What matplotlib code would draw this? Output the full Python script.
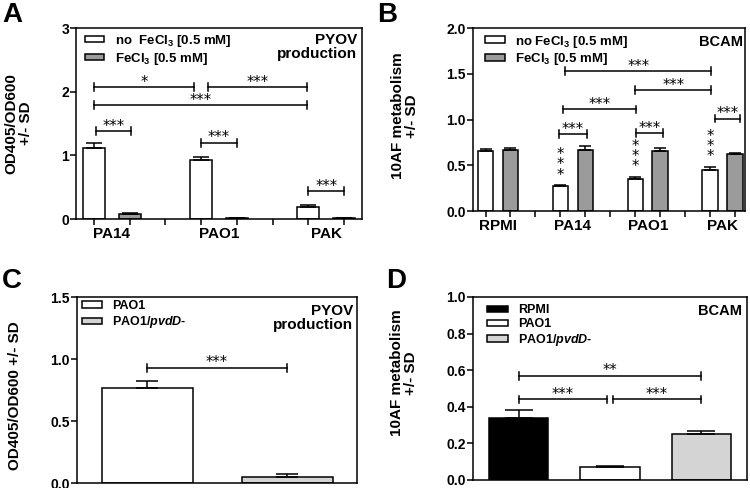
import numpy as np
import matplotlib.pyplot as plt

plt.rcParams['font.family'] = ['Liberation Sans', 'DejaVu Sans']
plt.rcParams['font.weight'] = 'bold'
plt.rcParams['mathtext.fontset'] = 'custom'
plt.rcParams['mathtext.rm'] = 'Liberation Sans:bold'
plt.rcParams['mathtext.bf'] = 'Liberation Sans:bold'
plt.rcParams['mathtext.it'] = 'Liberation Sans:bold:italic'
plt.rcParams['mathtext.default'] = 'bf'
plt.rcParams['axes.linewidth'] = 1.1

# ---- data ----
# panel A: pyoverdine production
groups_A = ['PA14', 'PAO1', 'PAK']
noFe_A = [1.12, 0.93, 0.19]
noFe_A_sd = [0.08, 0.04, 0.03]
Fe_A = [0.08, 0.01, 0.01]
Fe_A_sd = [0.02, 0.01, 0.01]
# (x1, x2, y, stars)
sig_A = [(0.0, 2.8, 2.07, '*'), (3.2, 5.95, 2.07, '***'), (0.0, 5.95, 1.79, '***'),
         (0.05, 1.05, 1.38, '***'), (3.0, 4.0, 1.20, '***'), (6.0, 7.0, 0.44, '***')]

# panel B: BCAM 10AF metabolism
groups_B = ['RPMI', 'PA14', 'PAO1', 'PAK']
noFe_B = [0.66, 0.27, 0.35, 0.45]
noFe_B_sd = [0.02, 0.01, 0.02, 0.03]
Fe_B = [0.67, 0.67, 0.66, 0.62]
Fe_B_sd = [0.02, 0.04, 0.03, 0.01]
vstars_B = ['', '***', '***', '***']
sig_B = [(3.2, 9.05, 1.53, '***'), (6.0, 9.05, 1.32, '***'), (3.1, 6.05, 1.11, '***'),
         (2.95, 4.05, 0.84, '***'), (6.05, 7.1, 0.85, '***'), (9.2, 10.2, 1.01, '***')]

# panel C: PYOV production, PAO1 vs pvdD mutant
strains_C = ['PAO1', r'PAO1/$\mathit{pvdD}$-']
vals_C = [0.77, 0.05]
sd_C = [0.05, 0.02]
sig_C = [(0.0, 1.0, 0.93, '***')]

# panel D: BCAM
strains_D = ['RPMI', 'PAO1', r'PAO1/$\mathit{pvdD}$-']
vals_D = [0.34, 0.07, 0.25]
sd_D = [0.04, 0.005, 0.02]
sig_D = [(0.0, 2.0, 0.57, '**'), (0.0, 0.97, 0.44, '***'), (1.03, 2.0, 0.44, '***')]

fe_labels = [r'no  FeCl$_3$ [0.5 mM]', r'FeCl$_3$ [0.5 mM]']
fe_colors = ['white', '#9b9b9b']
colors_C = ['white', '#d4d4d4']
colors_D = ['black', 'white', '#d4d4d4']

fig = plt.figure(figsize=(7.5, 4.88), dpi=100)
axA = fig.add_axes([0.1013, 0.5512, 0.3813, 0.3914])
axB = fig.add_axes([0.6307, 0.5676, 0.3627, 0.3750])
axC = fig.add_axes([0.1027, 0.0102, 0.3733, 0.3811])
axD = fig.add_axes([0.6307, 0.0164, 0.3653, 0.3750])

ekw = dict(elinewidth=1.1, capthick=1.1, ecolor='black')


def bracket(ax, x1, x2, y, txt):
    lo, hi = ax.get_ylim()
    h = 0.021 * (hi - lo)
    ax.plot([x1, x2], [y, y], color='black', lw=1.1)
    ax.plot([x1, x1], [y - h, y + h], color='black', lw=1.1)
    ax.plot([x2, x2], [y - h, y + h], color='black', lw=1.1)
    ax.annotate(txt, ((x1 + x2) / 2, y), xytext=(0, -2), textcoords='offset points',
                ha='center', va='bottom', fontsize=10.5, family='DejaVu Sans', fontweight='normal')


def style(ax, ylim, yticks, fmt):
    ax.set_ylim(*ylim)
    ax.set_yticks(yticks)
    ax.set_yticklabels([fmt % t for t in yticks], fontsize=10, fontweight='bold')
    ax.tick_params(axis='y', direction='out', length=4, width=1.1, pad=1)


def grouped(ax, groups, series, errs, colors, labels, capsize):
    n = len(series)
    for s in range(n):
        pos = np.arange(len(groups)) * (n + 1) + s
        ax.bar(pos, series[s], width=0.62, color=colors[s], edgecolor='black', linewidth=1.1,
               yerr=[np.zeros(len(pos)), errs[s]], capsize=capsize, error_kw=ekw, label=labels[s])
    allpos = np.arange(len(groups) * (n + 1) - 1)
    ax.set_xticks(allpos)
    ax.set_xticklabels([])
    ax.set_xticks(np.arange(len(groups)) * (n + 1) + (n - 1) / 2, minor=True)
    ax.set_xticklabels(groups, minor=True, fontsize=11, fontweight='bold')
    ax.tick_params(axis='x', which='major', direction='out', length=4, width=1.1)
    ax.tick_params(axis='x', which='minor', length=0, pad=6)


# ---- A ----
style(axA, (0, 3), [0, 1, 2, 3], '%d')
grouped(axA, groups_A, [noFe_A, Fe_A], [noFe_A_sd, Fe_A_sd], fe_colors, fe_labels, 6)
axA.set_xlim(-0.5, 7.5)
for x1, x2, y, t in sig_A:
    bracket(axA, x1, x2, y, t)
axA.legend(loc='upper left', bbox_to_anchor=(0.03, 0.975), frameon=False, fontsize=9.5,
           handlelength=1.5, handleheight=0.4, handletextpad=0.8, labelspacing=0.15,
           borderpad=0, borderaxespad=0)
axA.text(0.983, 0.975, 'PYOV\nproduction', transform=axA.transAxes, ha='right', va='top',
         fontsize=11, fontweight='bold', multialignment='right', linespacing=1.05)
axA.set_ylabel('OD405/OD600\n+/- SD', fontsize=11, fontweight='bold', linespacing=1.1)
axA.yaxis.set_label_coords(-0.15, 0.5)

# ---- B ----
style(axB, (0, 2), [0, 0.5, 1.0, 1.5, 2.0], '%.1f')
grouped(axB, groups_B, [noFe_B, Fe_B], [noFe_B_sd, Fe_B_sd], fe_colors,
        [l.replace('  ', ' ') for l in fe_labels], 4.5)
axB.set_xlim(-0.5, 10.4)
for i, t in enumerate(vstars_B):
    if t:
        axB.annotate('\n'.join(t), (i * 3, noFe_B[i] + noFe_B_sd[i]), xytext=(0, 2),
                     textcoords='offset points', ha='center', va='bottom', fontsize=10.5,
                     family='DejaVu Sans', fontweight='normal', linespacing=0.6)
for x1, x2, y, t in sig_B:
    bracket(axB, x1, x2, y, t)
axB.legend(loc='upper left', bbox_to_anchor=(0.044, 0.97), frameon=False, fontsize=9.5,
           handlelength=1.5, handleheight=0.4, handletextpad=0.8, labelspacing=0.15,
           borderpad=0, borderaxespad=0)
axB.text(0.993, 0.96, 'BCAM', transform=axB.transAxes, ha='right', va='top',
         fontsize=10.5, fontweight='bold')
axB.set_ylabel('10AF metabolism\n+/- SD', fontsize=11, fontweight='bold', linespacing=1.0)
axB.yaxis.set_label_coords(-0.2, 0.52)

# ---- C ----
style(axC, (0, 1.5), [0, 0.5, 1.0, 1.5], '%.1f')
xc = np.arange(len(strains_C))
axC.bar(xc, vals_C, width=0.65, color=colors_C, edgecolor='black', linewidth=1.1,
        yerr=[np.zeros(len(xc)), sd_C], capsize=8, error_kw=ekw)
axC.set_xlim(-0.5, 1.5)
axC.set_xticks([])
for x1, x2, y, t in sig_C:
    bracket(axC, x1, x2, y, t)
handles = [plt.Rectangle((0, 0), 1, 1, fc=c, ec='black', lw=1.1) for c in colors_C]
axC.legend(handles, strains_C, loc='upper left', bbox_to_anchor=(0.018, 0.985), frameon=False,
           fontsize=9, handlelength=1.6, handleheight=0.4, handletextpad=0.8,
           labelspacing=0.2, borderpad=0, borderaxespad=0)
axC.text(0.985, 0.965, 'PYOV\nproduction', transform=axC.transAxes, ha='right', va='top',
         fontsize=11, fontweight='bold', multialignment='right', linespacing=1.05)
axC.set_ylabel('OD405/OD600 +/- SD', fontsize=11, fontweight='bold')
axC.yaxis.set_label_coords(-0.196, 0.47)

# ---- D ----
style(axD, (0, 1.0), [0, 0.2, 0.4, 0.6, 0.8, 1.0], '%.1f')
xd = np.arange(len(strains_D))
axD.bar(xd, vals_D, width=0.65, color=colors_D, edgecolor='black', linewidth=1.1,
        yerr=[np.zeros(len(xd)), sd_D], capsize=10, error_kw=ekw)
axD.set_xlim(-0.5, 2.5)
axD.set_xticks([])
for x1, x2, y, t in sig_D:
    bracket(axD, x1, x2, y, t)
handles = [plt.Rectangle((0, 0), 1, 1, fc=c, ec='black', lw=1.1) for c in colors_D]
axD.legend(handles, strains_D, loc='upper left', bbox_to_anchor=(0.05, 0.96), frameon=False,
           fontsize=9, handlelength=1.7, handleheight=0.4, handletextpad=0.8,
           labelspacing=0.15, borderpad=0, borderaxespad=0)
axD.text(0.982, 0.96, 'BCAM', transform=axD.transAxes, ha='right', va='top',
         fontsize=10.5, fontweight='bold')
axD.set_ylabel('10AF metabolism\n+/- SD', fontsize=11, fontweight='bold', linespacing=1.0)
axD.yaxis.set_label_coords(-0.2, 0.585)

# panel letters
for lab, x, y in [('A', 0.003, 0.995), ('B', 0.503, 0.995), ('C', 0.003, 0.45), ('D', 0.515, 0.45)]:
    fig.text(x, y, lab, fontsize=20, fontweight='bold', ha='left', va='top')

fig.savefig('out.png', dpi=100)
